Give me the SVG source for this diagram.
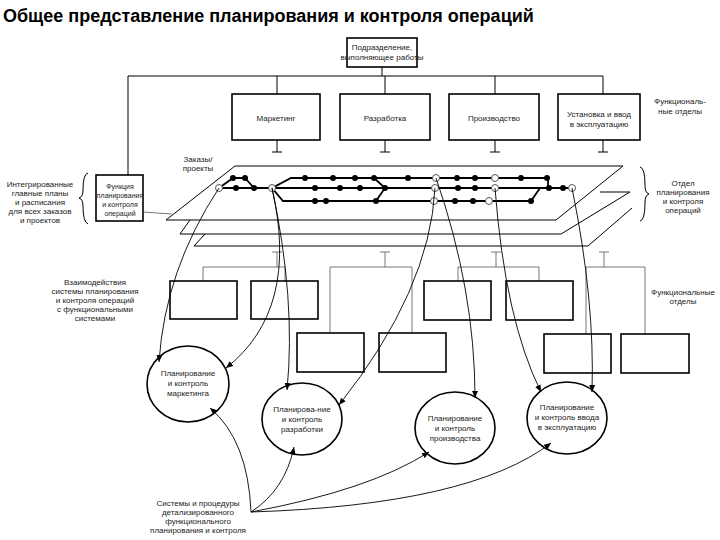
<svg xmlns="http://www.w3.org/2000/svg" width="720" height="540" viewBox="0 0 720 540">
<defs>
<marker id="ah" markerWidth="8" markerHeight="8" refX="7" refY="4" orient="auto" markerUnits="userSpaceOnUse"><path d="M0,1 L7,4 L0,7 Z" fill="#000"/></marker>
<style>
.t{font-family:"Liberation Sans",Arial,sans-serif;font-size:8px;fill:#222;text-anchor:middle}
.s{font-size:7px}
.b{fill:#fff;stroke:#000;stroke-width:1.6}
.l{fill:none;stroke:#000;stroke-width:1}
.g{fill:none;stroke:#555;stroke-width:0.8}
.n{fill:none;stroke:#000;stroke-width:1.8}
.d{fill:#000}
.o{fill:#fff;stroke:#555;stroke-width:1}
.c{fill:none;stroke:#000;stroke-width:0.9}
</style>
</defs>
<rect width="720" height="540" fill="#fff"/>
<text x="3" y="22" style="font-family:'Liberation Sans',Arial,sans-serif;font-size:18px;font-weight:bold">Общее представление планирования и контроля операций</text>

<g id="org">
<rect class="b" x="347" y="38" width="70" height="29"/>
<text class="t" x="382" y="50">Подразделение,</text><text class="t" x="382" y="60">выполняющее работы</text>
<path class="l" d="M382,67 V76 M128,76 H603 M128,76 V175 M277,76 V94 M385,76 V94 M495,76 V94 M603,76 V94"/>
</g>
<g id="dept-marketing"><rect class="b" x="232" y="94" width="88" height="46"/><text class="t" x="276" y="121">Маркетинг</text></g>
<g id="dept-dev"><rect class="b" x="340" y="94" width="90" height="46"/><text class="t" x="385" y="121">Разработка</text></g>
<g id="dept-prod"><rect class="b" x="449" y="94" width="90" height="46"/><text class="t" x="494" y="121">Производство</text></g>
<g id="dept-install"><rect class="b" x="558" y="94" width="82" height="46"/><text class="t" x="599" y="117">Установка и ввод</text><text class="t" x="599" y="127">в эксплуатацию</text></g>
<text class="t" x="680" y="104">Функциональ-</text><text class="t" x="680" y="114">ные отделы</text>
<path class="l" d="M277,140 V152 M272,152 H282 M385,140 V152 M380,152 H390 M495,140 V152 M490,152 H500 M603,140 V152 M598,152 H608"/>

<g id="planes">
<text class="t" x="198" y="162">Заказы/</text><text class="t" x="198" y="171">проекты</text>
<path class="l" d="M235,166 H623 L556,220 H166 Z"/>
<path class="l" d="M190,220 L180,234 H561 L630,192 M600,192 H630"/>
<path class="l" d="M205,234 L194,246 H588 L632,208"/>
</g>

<g id="func-box">
<rect class="b" x="96" y="175" width="47" height="46"/>
<text class="t s" x="120" y="189">Функция</text><text class="t s" x="120" y="198">планирования</text><text class="t s" x="120" y="207">и контроля</text><text class="t s" x="120" y="216">операций</text>
<path class="g" d="M143,212 L172,214"/>
<path class="l" d="M88,173 Q83,174 83,190 Q83,197 79,198 Q83,199 83,206 Q83,222 88,224"/>
<text class="t" x="40" y="187">Интегрированные</text><text class="t" x="40" y="196">главные планы</text><text class="t" x="40" y="205">и расписания</text><text class="t" x="40" y="214">для всех заказов</text><text class="t" x="40" y="223">и проектов</text>
<path class="l" d="M640,167 Q645,168 645,185 Q645,193 649,194 Q645,195 645,203 Q645,220 640,221"/>
<text class="t" x="683" y="186">Отдел</text><text class="t" x="683" y="195">планирования</text><text class="t" x="683" y="204">и контроля</text><text class="t" x="683" y="213">операций</text>
</g>

<g id="network">
<path class="n" d="M219,188 L233,178 H245 L254,188 M219,188 H272 L291,178 H548 V188 M272,188 H572 M272,188 L283,201 H531 L540,188 M374,178 L385,188 L376,201"/>
<g class="d">
<circle cx="233" cy="178" r="3"/><circle cx="245" cy="178" r="3"/><circle cx="305" cy="178" r="3"/><circle cx="333" cy="178" r="3"/><circle cx="355" cy="178" r="3"/><circle cx="374" cy="178" r="3"/><circle cx="408" cy="178" r="3"/><circle cx="457" cy="178" r="3"/><circle cx="475" cy="178" r="3"/><circle cx="521" cy="178" r="3"/><circle cx="547" cy="178" r="3"/>
<circle cx="236" cy="188" r="3"/><circle cx="254" cy="188" r="3"/><circle cx="315" cy="188" r="3"/><circle cx="340" cy="188" r="3"/><circle cx="360" cy="188" r="3"/><circle cx="385" cy="188" r="3"/><circle cx="458" cy="188" r="3"/><circle cx="475" cy="188" r="3"/><circle cx="549" cy="188" r="3"/><circle cx="563" cy="188" r="3"/>
<circle cx="315" cy="201" r="3"/><circle cx="326" cy="201" r="3"/><circle cx="376" cy="201" r="3"/><circle cx="455" cy="201" r="3"/><circle cx="473" cy="201" r="3"/><circle cx="531" cy="201" r="3"/>
</g>
<g class="o">
<circle cx="219" cy="188" r="3.5"/><circle cx="272" cy="188" r="3.5"/><circle cx="436" cy="178" r="3.5"/><circle cx="495" cy="178" r="3.5"/><circle cx="435" cy="188" r="3.5"/><circle cx="495" cy="188" r="3.5"/><circle cx="572" cy="188" r="3.5"/><circle cx="434" cy="201" r="3.5"/><circle cx="489" cy="201" r="3.5"/>
</g>
</g>

<g id="sub-depts">
<path class="g" d="M277,252 V267 M272,252 H282 M203,267 H285 M203,267 V281 M285,267 V281"/>
<path class="g" d="M385,252 V267 M380,252 H390 M330,267 H412 M330,267 V333 M412,267 V333"/>
<path class="g" d="M496,252 V267 M491,252 H501 M458,267 H539 M458,267 V281 M539,267 V281"/>
<path class="g" d="M604,252 V267 M599,252 H609 M586,267 H645 M586,267 V334 M645,267 V334"/>
<rect class="b" x="170" y="281" width="67" height="38"/><rect class="b" x="251" y="281" width="67" height="38"/>
<rect class="b" x="297" y="333" width="67" height="39"/><rect class="b" x="379" y="333" width="67" height="39"/>
<rect class="b" x="424" y="281" width="67" height="39"/><rect class="b" x="506" y="281" width="67" height="39"/>
<rect class="b" x="544" y="334" width="67" height="39"/><rect class="b" x="621" y="334" width="68" height="39"/>
<text class="t" x="683" y="295">Функциональные</text><text class="t" x="683" y="304">отделы</text>
<text class="t" x="95" y="285">Взаимодействия</text><text class="t" x="95" y="294">системы планирования</text><text class="t" x="95" y="303">и контроля операций</text><text class="t" x="95" y="312">с функциональными</text><text class="t" x="95" y="321">системами</text>
</g>

<g id="circle-marketing"><ellipse class="b" cx="188" cy="384" rx="41" ry="38"/><text class="t" x="188" y="376">Планирование</text><text class="t" x="188" y="386">и контроль</text><text class="t" x="188" y="396">маркетинга</text></g>
<g id="circle-dev"><ellipse class="b" cx="302" cy="419" rx="40" ry="36"/><text class="t" x="302" y="412">Планирова-ние</text><text class="t" x="302" y="422">и контроль</text><text class="t" x="302" y="432">разработки</text></g>
<g id="circle-prod"><ellipse class="b" cx="455" cy="428" rx="40" ry="36"/><text class="t" x="455" y="421">Планирование</text><text class="t" x="455" y="431">и контроль</text><text class="t" x="455" y="441">производства</text></g>
<g id="circle-install"><ellipse class="b" cx="567" cy="418" rx="40" ry="36"/><text class="t" x="567" y="410">Планирование</text><text class="t" x="567" y="420">и контроль ввода</text><text class="t" x="567" y="430">в эксплуатацию</text></g>
<g id="bottom-label"><text class="t" x="198" y="506">Системы и процедуры</text><text class="t" x="198" y="515">детализированного</text><text class="t" x="198" y="524">функционального</text><text class="t" x="198" y="533">планирования и контроля</text></g>

<g id="connectors">
<path class="c" marker-end="url(#ah)" d="M219,188 Q165,270 159,362"/>
<path class="c" marker-end="url(#ah)" d="M272,188 Q300,310 226,368"/>
<path class="c" marker-end="url(#ah)" d="M272,188 Q296,300 287,390"/>
<path class="c" marker-end="url(#ah)" d="M435,188 Q430,290 339,405"/>
<path class="c" marker-end="url(#ah)" d="M436,178 Q475,290 475,398"/>
<path class="c" marker-end="url(#ah)" d="M495,188 Q505,320 541,392"/>
<path class="c" marker-end="url(#ah)" d="M572,188 Q595,300 592,392"/>
<path class="c" marker-end="url(#ah)" d="M251,512 Q248,440 210,408"/>
<path class="c" marker-end="url(#ah)" d="M251,512 Q285,490 294,447"/>
<path class="c" marker-end="url(#ah)" d="M251,512 Q370,490 429,452"/>
<path class="c" marker-end="url(#ah)" d="M251,512 Q470,505 551,443"/>
</g>
</svg>
